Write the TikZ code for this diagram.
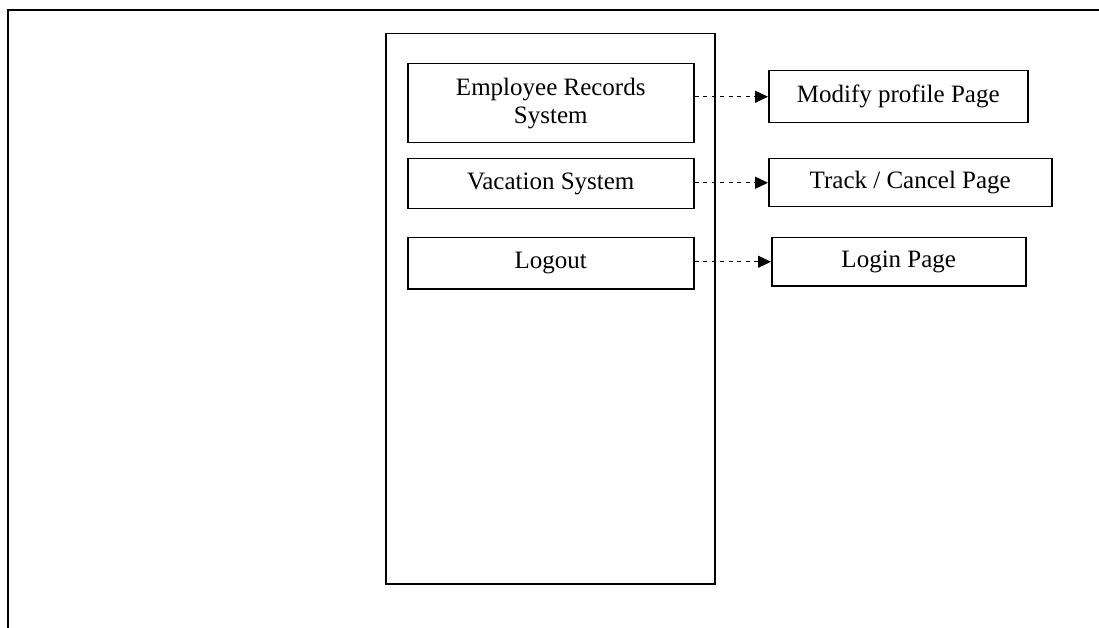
\documentclass[tikz,border=0pt]{standalone}
\usepackage{fontspec}
\setmainfont{Liberation Serif}
\usetikzlibrary{arrows.meta}
\begin{document}
\begin{tikzpicture}[x=1pt,y=-1pt,
  box/.style={draw,line width=1.5pt,rectangle,anchor=north west,inner sep=0pt,
    align=center,font=\fontsize{25}{28}\selectfont},
  link/.style={line width=1.2pt,dash pattern=on 4pt off 4.5pt,
    -{Triangle[length=13pt,width=12pt]}}]
\useasboundingbox (0,0) rectangle (1099,628);
\fill[white] (0,0) rectangle (1099,628);
% outer frame edges
\coordinate (ftl) at (8,10);
\coordinate (ftr) at (1099,10);
\coordinate (fbl) at (8,628);
\draw[line width=1.5pt] (ftr) -- (ftl) -- (fbl);
% main container
\node[box,minimum width=329pt,minimum height=550pt] (main) at (385,33) {};
% menu items
\node[box,minimum width=286pt,minimum height=79pt] (ers) at (407,63) {Employee Records\\System};
\node[box,minimum width=286pt,minimum height=50pt] (vac) at (407,158) {Vacation System};
\node[box,minimum width=286pt,minimum height=51pt] (lgo) at (407,237) {Logout};
% target pages
\node[box,minimum width=259pt,minimum height=52pt] (mod) at (768,70) {Modify profile Page};
\node[box,minimum width=283pt,minimum height=48pt] (trk) at (768,158) {Track / Cancel Page};
\node[box,minimum width=254pt,minimum height=48pt] (lgn) at (771,237) {Login Page};
% links
\draw[link] (ers.east |- mod.west) -- (mod.west);
\draw[link] (vac.east |- trk.west) -- (trk.west);
\draw[link] (lgo.east |- lgn.west) -- (lgn.west);
\end{tikzpicture}
\end{document}
